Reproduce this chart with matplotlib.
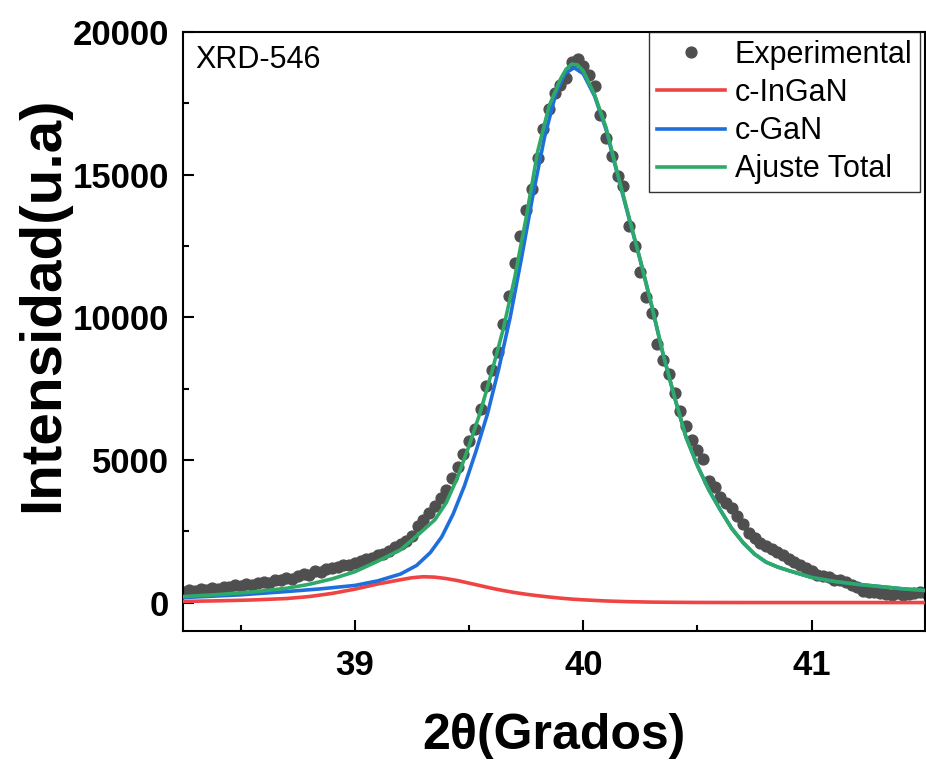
import matplotlib.pyplot as plt
import numpy as np
from matplotlib.ticker import MultipleLocator

plt.rcParams['font.family'] = ['Liberation Sans', 'DejaVu Sans']

# experimental scan, 38.25 .. 41.50 deg, step 0.025
scan_start = 38.25
scan_stop = 41.50
exp_counts = np.array([
    380, 430, 400, 470, 450, 520, 480, 560, 540, 600,
    580, 640, 620, 700, 720, 690, 800, 780, 860, 830,
    940, 1000, 980, 1100, 1080, 1180, 1200, 1250, 1300, 1330,
    1400, 1450, 1520, 1560, 1650, 1700, 1820, 1950, 2050, 2150,
    2330, 2700, 2900,
    3150, 3400, 3650, 3950, 4350, 4750, 5200, 5650, 6100, 6800,
    7600, 8150, 8800, 9750, 10750, 11900, 12850, 13750, 14500, 15600,
    16600, 17300, 17850, 18150, 18400, 18950, 19050, 18800, 18500, 18100,
    17100, 16300, 15650, 14950, 14600, 13200, 12500, 11600, 10700, 10150,
    9050, 8500, 8000, 7350, 6700, 6200, 5700, 5350, 5050, 4250,
    4050, 3700, 3500, 3300, 3050, 2750, 2450, 2250, 2100, 1970,
    1870, 1770, 1650, 1540, 1420, 1330, 1220, 1100, 980, 940,
    880, 800, 780, 730, 620, 560, 420, 380, 360, 350,
    300, 280, 320, 270, 300, 330, 380, 350,
])
exp_theta = np.linspace(scan_start, scan_stop, len(exp_counts))

# fitted components
ingan_x = [38.25, 38.40, 38.55, 38.70, 38.80, 38.90, 39.00, 39.10, 39.20, 39.25,
           39.30, 39.35, 39.40, 39.45, 39.50, 39.55, 39.60, 39.65, 39.70, 39.75,
           39.80, 39.85, 39.90, 39.95, 40.00, 40.10, 40.20, 40.30, 40.40, 40.50,
           40.70, 41.50]
ingan_y = [40, 60, 90, 140, 210, 320, 470, 650, 800, 870,
           905, 890, 840, 770, 680, 590, 500, 420, 350, 290,
           240, 195, 155, 120, 95, 55, 30, 15, 8, 3,
           0, 0]

gan_x = [38.25, 38.50, 38.70, 38.85, 39.00, 39.10, 39.20, 39.27, 39.33, 39.38,
         39.43, 39.48, 39.53, 39.58, 39.63, 39.68, 39.73, 39.78, 39.83, 39.88,
         39.92, 39.96, 40.00, 40.05, 40.10, 40.15, 40.20, 40.25, 40.30, 40.35,
         40.40, 40.45, 40.50, 40.55, 40.60, 40.65, 40.70, 40.75, 40.80, 40.85,
         40.90, 40.95, 41.00, 41.10, 41.20, 41.30, 41.40, 41.50]
gan_y = [175, 270, 385, 480, 600, 760, 1000, 1300, 1750, 2300,
         3100, 4100, 5300, 6600, 8200, 10000, 12100, 14300, 16300, 17850,
         18550, 18750, 18540, 17750, 16580, 15000, 13480, 11990, 10390, 8690,
         7190, 5800, 4800, 3950, 3250, 2600, 2100, 1700, 1420, 1250,
         1120, 1000, 880, 740, 640, 560, 480, 420]

total_x = [38.25, 38.40, 38.55, 38.70, 38.80, 38.90, 39.00, 39.10, 39.20, 39.28,
           39.35, 39.40, 39.45, 39.50, 39.55, 39.60, 39.65, 39.70, 39.75, 39.80,
           39.85, 39.90, 39.925, 39.95, 39.975, 40.00, 40.05, 40.10, 40.15, 40.20,
           40.25, 40.30, 40.35, 40.40, 40.45, 40.50, 40.55, 40.60, 40.65, 40.70,
           40.75, 40.80, 40.85, 40.90, 40.95, 41.00, 41.10, 41.20, 41.30, 41.40,
           41.50]
total_y = [210, 280, 370, 500, 640, 830, 1080, 1450, 1850, 2400,
           2900, 3500, 4400, 5500, 6700, 8100, 9600, 11400, 13500, 15800,
           17400, 18350, 18700, 18880, 18850, 18640, 17800, 16650, 15050, 13520,
           12000, 10400, 8700, 7200, 5800, 4800, 3950, 3250, 2600, 2100,
           1700, 1420, 1250, 1120, 1000, 880, 740, 640, 560, 480,
           420]

fig = plt.figure(figsize=(9.26, 7.64), dpi=100)
ax = fig.add_axes([0.1976, 0.174, 0.8014, 0.784])

ax.plot(exp_theta, exp_counts, linestyle="none", marker="o", markersize=7.8,
        color="#4f4f4f", label="Experimental", zorder=2)
ax.plot(ingan_x, ingan_y, color="#f04444", linewidth=2.6, label="c-InGaN", zorder=3)
ax.plot(gan_x, gan_y, color="#1e6fdc", linewidth=2.6, label="c-GaN", zorder=4)
ax.plot(total_x, total_y, color="#2eaa68", linewidth=2.6, label="Ajuste Total", zorder=5)

ax.set_xlim(38.247, 41.497)
ax.set_ylim(-1000, 20000)
ax.xaxis.set_major_locator(MultipleLocator(1))
ax.xaxis.set_minor_locator(MultipleLocator(0.5))
ax.yaxis.set_major_locator(MultipleLocator(5000))
ax.yaxis.set_minor_locator(MultipleLocator(2500))

ax.tick_params(which="both", direction="in", top=False, right=False, width=1.5)
ax.tick_params(which="major", length=8, labelsize=25)
ax.tick_params(axis="x", which="major", pad=13)
ax.tick_params(axis="y", which="major", pad=10)
ax.tick_params(which="minor", length=4)
for lab in ax.get_xticklabels() + ax.get_yticklabels():
    lab.set_fontweight("bold")
for sp in ax.spines.values():
    sp.set_linewidth(1.5)

ax.set_xlabel("2θ(Grados)", fontsize=36, fontweight="bold", labelpad=22)
ax.set_ylabel("Intensidad(u.a)", fontsize=42, fontweight="bold")
ax.yaxis.set_label_coords(-0.152, 0.545)

ax.text(0.016, 0.978, "XRD-546", transform=ax.transAxes, fontsize=22,
        ha="left", va="top")

leg = ax.legend(loc="upper right", bbox_to_anchor=(0.993, 1.0), borderaxespad=0,
                fontsize=22, frameon=True, fancybox=False, edgecolor="black",
                handlelength=2.25, handletextpad=0.3, labelspacing=0.27,
                borderpad=0.25, markerscale=1.0)
leg.get_frame().set_linewidth(1.0)

fig.savefig("out.png", dpi=100)
